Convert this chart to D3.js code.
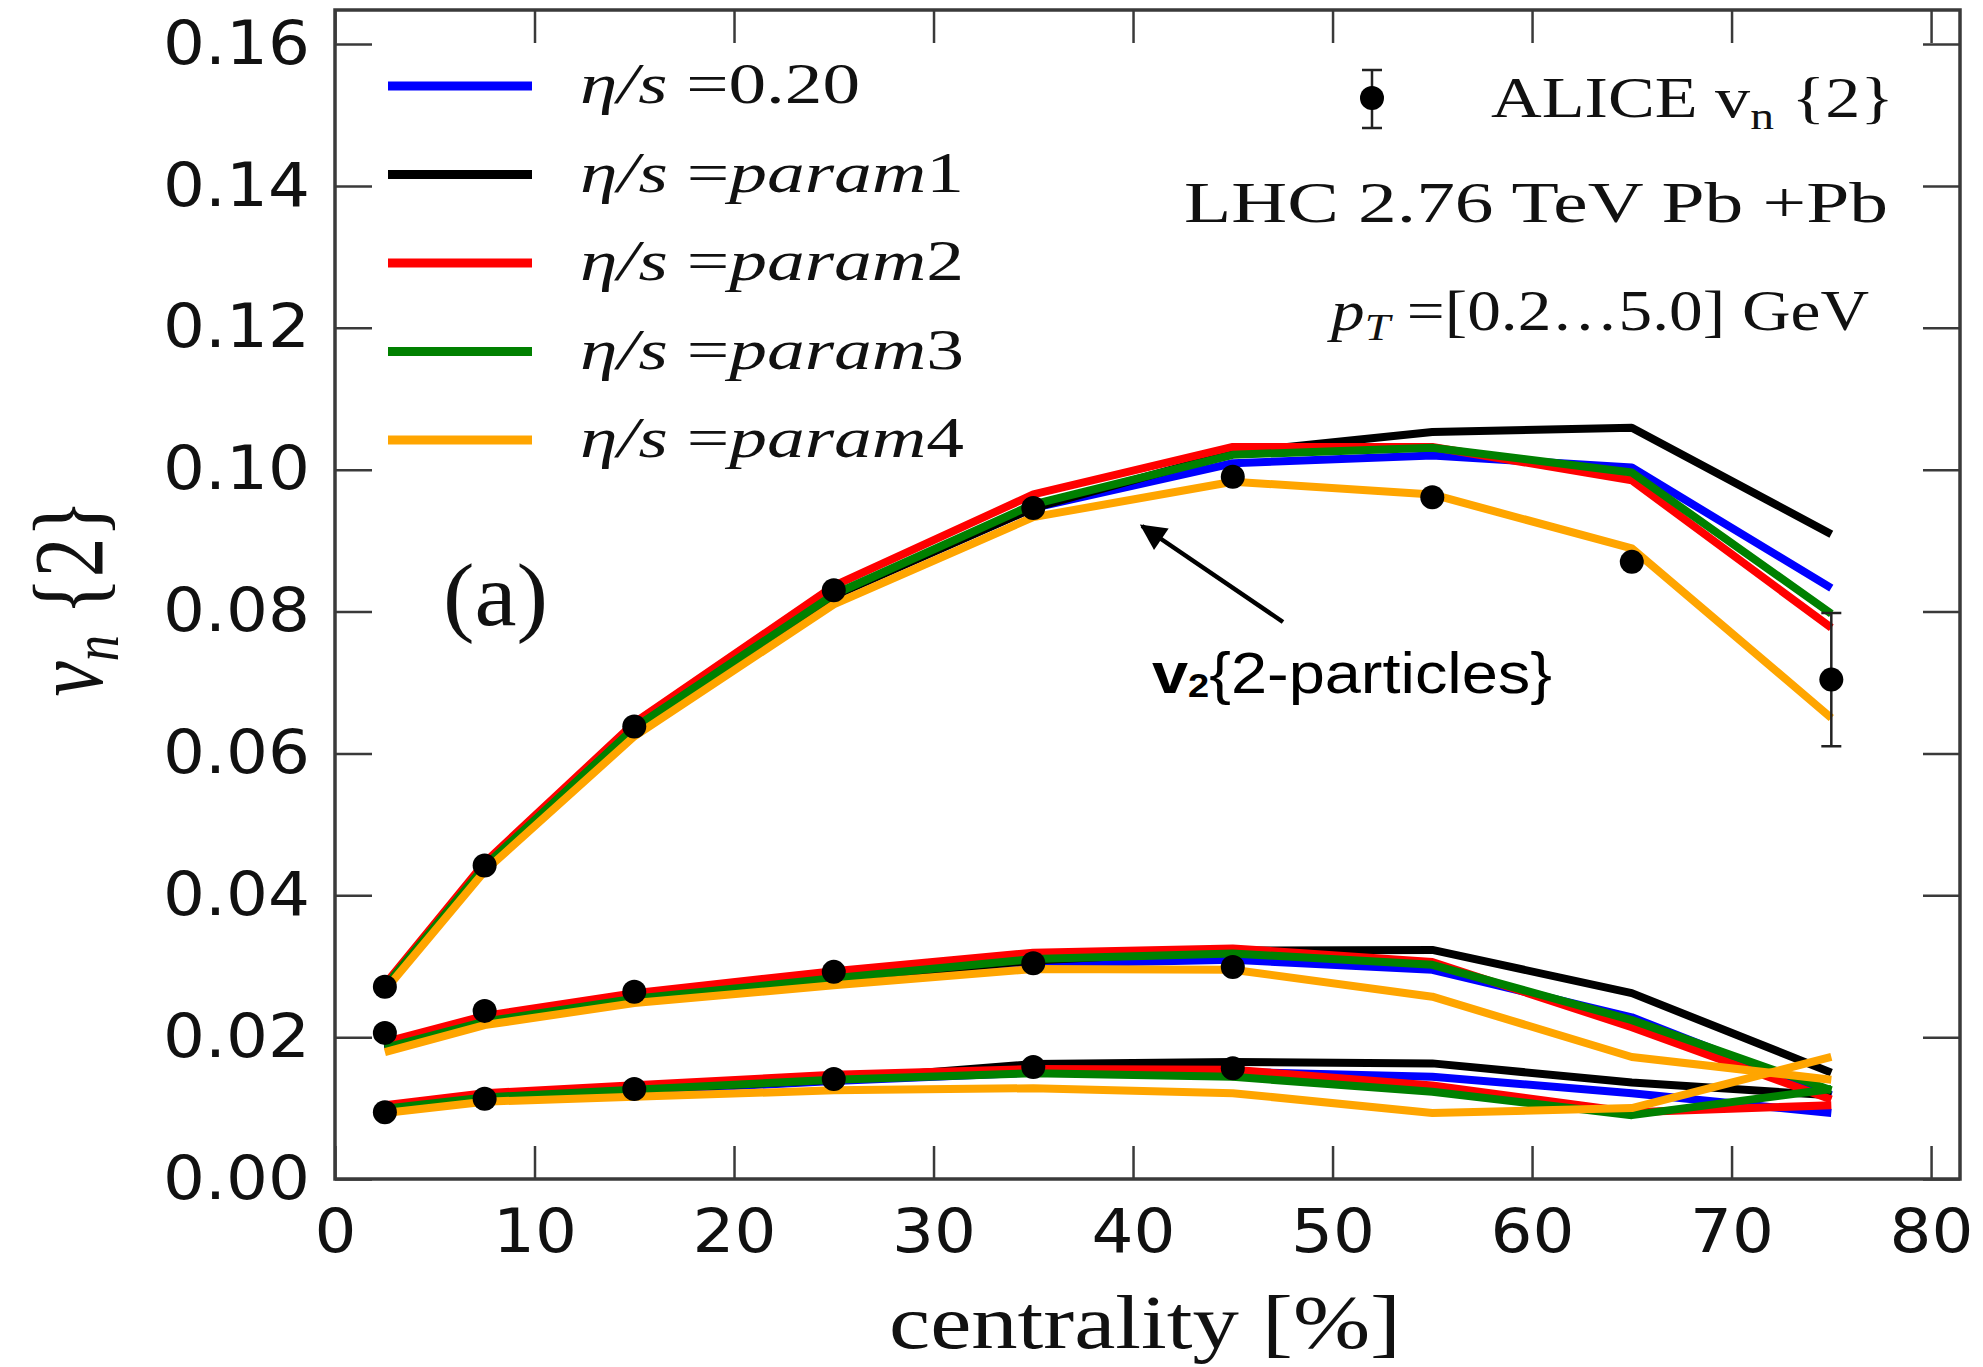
<!DOCTYPE html>
<html>
<head>
<meta charset="utf-8">
<script src="https://cdn.jsdelivr.net/npm/d3@7"></script>
<style>
  body { margin: 0; background: #fff; }
  svg { display: block; }
</style>
</head>
<body>
<script>
// centrality bins (bin centres, %)
var centrality = [2.5, 7.5, 15, 25, 35, 45, 55, 65, 75]

// model curves, one array per harmonic and per eta/s setting
var v2Eta020 = [0.0270, 0.0440, 0.0634, 0.0822, 0.0946, 0.1009, 0.1020, 0.1003, 0.0833]
var v3Eta020 = [0.0183, 0.0220, 0.0252, 0.0280, 0.0303, 0.0309, 0.0295, 0.0228, 0.0118]
var v4Eta020 = [0.0098, 0.0114, 0.0124, 0.0138, 0.0150, 0.0151, 0.0144, 0.0121, 0.0093]

var v2Param1 = [0.0270, 0.0440, 0.0634, 0.0822, 0.0946, 0.1024, 0.1053, 0.1059, 0.0909]
var v3Param1 = [0.0183, 0.0220, 0.0252, 0.0281, 0.0308, 0.0322, 0.0323, 0.0262, 0.0150]
var v4Param1 = [0.0098, 0.0115, 0.0126, 0.0140, 0.0162, 0.0165, 0.0163, 0.0136, 0.0118]

var v2Param2 = [0.0274, 0.0446, 0.0643, 0.0836, 0.0965, 0.1032, 0.1032, 0.0985, 0.0777]
var v3Param2 = [0.0193, 0.0230, 0.0262, 0.0293, 0.0319, 0.0325, 0.0306, 0.0214, 0.0112]
var v4Param2 = [0.0104, 0.0121, 0.0132, 0.0147, 0.0155, 0.0154, 0.0132, 0.0094, 0.0104]

var v2Param3 = [0.0271, 0.0441, 0.0636, 0.0824, 0.0951, 0.1021, 0.1031, 0.0996, 0.0797]
var v3Param3 = [0.0185, 0.0222, 0.0254, 0.0283, 0.0310, 0.0318, 0.0302, 0.0224, 0.0125]
var v4Param3 = [0.0099, 0.0115, 0.0126, 0.0140, 0.0149, 0.0144, 0.0123, 0.0090, 0.0127]

var v2Param4 = [0.0266, 0.0434, 0.0624, 0.0810, 0.0933, 0.0983, 0.0965, 0.0889, 0.0650]
var v3Param4 = [0.0179, 0.0217, 0.0248, 0.0273, 0.0296, 0.0295, 0.0257, 0.0172, 0.0140]
var v4Param4 = [0.0093, 0.0109, 0.0116, 0.0125, 0.0128, 0.0121, 0.0093, 0.0100, 0.0172]

// ALICE v_n{2} points
var aliceV2 = [0.0271, 0.0442, 0.0638, 0.0830, 0.0946, 0.0990, 0.0961, 0.0870, 0.0704]
var aliceV2Err = [0, 0, 0, 0, 0, 0, 0, 0, 0.0094]
var aliceLowCentrality = [2.5, 7.5, 15, 25, 35, 45]
var aliceV3 = [0.0206, 0.0237, 0.0264, 0.0292, 0.0304, 0.0299]
var aliceV4 = [0.0094, 0.0113, 0.0127, 0.0141, 0.0158, 0.0156]

var xTicks = [0, 10, 20, 30, 40, 50, 60, 70, 80]
var yTicks = [0, 0.02, 0.04, 0.06, 0.08, 0.10, 0.12, 0.14, 0.16]
var legendLabels = ['0.20', 'param1', 'param2', 'param3', 'param4']

var series = [
  { label: legendLabels[0], color: '#0000ff', curves: [v2Eta020, v3Eta020, v4Eta020] },
  { label: legendLabels[1], color: '#000000', curves: [v2Param1, v3Param1, v4Param1] },
  { label: legendLabels[2], color: '#ff0000', curves: [v2Param2, v3Param2, v4Param2] },
  { label: legendLabels[3], color: '#008000', curves: [v2Param3, v3Param3, v4Param3] },
  { label: legendLabels[4], color: '#ffa500', curves: [v2Param4, v3Param4, v4Param4] }
]

var alice = [
  { cent: centrality, vals: aliceV2, err: aliceV2Err },
  { cent: aliceLowCentrality, vals: aliceV3 },
  { cent: aliceLowCentrality, vals: aliceV4 }
]

var W = 1983
var H = 1367
var serif = "'Liberation Serif', 'DejaVu Serif', serif"
var sans = "'DejaVu Sans', sans-serif"
var axisColor = '#3a3a3a'

var svg = d3
  .select('body')
  .append('svg')
  .attr('width', W)
  .attr('height', H)

svg.append('rect').attr('width', W).attr('height', H).attr('fill', '#fff')

var x = d3.scaleLinear().domain([0, 81.45]).range([335, 1960])
var y = d3.scaleLinear().domain([0, 0.1648]).range([1179, 10])

// stretch rendered text a bit wider, like the reference
function stretch(sel, k) {
  sel.each(function() {
    var w = this.getComputedTextLength()
    d3.select(this)
      .attr('textLength', w * k)
      .attr('lengthAdjust', 'spacingAndGlyphs')
  })
}

function fit(sel, w) {
  sel.attr('textLength', w).attr('lengthAdjust', 'spacingAndGlyphs')
}

// axes
function styleAxis(g) {
  g.select('.domain').remove()
  g.selectAll('.tick line').attr('stroke', axisColor).attr('stroke-width', 2.5)
  g.selectAll('.tick text')
    .attr('fill', '#111')
    .style('font-family', sans)
    .style('font-size', '60px')
}

var yLeft = svg
  .append('g')
  .attr('transform', 'translate(' + x.range()[0] + ',0)')
  .call(
    d3.axisLeft(y)
      .tickValues(yTicks)
      .tickSizeInner(-37)
      .tickSizeOuter(0)
      .tickPadding(25)
      .tickFormat(d3.format('.2f'))
  )
  .call(styleAxis)
stretch(yLeft.selectAll('.tick text'), 1.1)

svg
  .append('g')
  .attr('transform', 'translate(' + x.range()[1] + ',0)')
  .call(d3.axisRight(y).tickValues(yTicks).tickSizeInner(-37).tickSizeOuter(0).tickFormat(''))
  .call(styleAxis)

var xBottom = svg
  .append('g')
  .attr('transform', 'translate(0,' + y.range()[0] + ')')
  .call(
    d3.axisBottom(x)
      .tickValues(xTicks)
      .tickSizeInner(-33)
      .tickSizeOuter(0)
      .tickPadding(30)
      .tickFormat(d3.format('d'))
  )
  .call(styleAxis)
stretch(xBottom.selectAll('.tick text'), 1.1)

svg
  .append('g')
  .attr('transform', 'translate(0,' + y.range()[1] + ')')
  .call(d3.axisTop(x).tickValues(xTicks).tickSizeInner(-33).tickSizeOuter(0).tickFormat(''))
  .call(styleAxis)

svg
  .append('rect')
  .attr('x', x.range()[0])
  .attr('y', y.range()[1])
  .attr('width', x.range()[1] - x.range()[0])
  .attr('height', y.range()[0] - y.range()[1])
  .attr('fill', 'none')
  .attr('stroke', axisColor)
  .attr('stroke-width', 3.5)

// model curves
var line = d3
  .line()
  .x(d => x(d.c))
  .y(d => y(d.v))

var curves = svg.append('g')
series.forEach(function(s) {
  s.curves.forEach(function(vals) {
    curves
      .append('path')
      .datum(centrality.map((c, i) => ({ c: c, v: vals[i] })))
      .attr('d', line)
      .attr('fill', 'none')
      .attr('stroke', s.color)
      .attr('stroke-width', 8)
      .attr('stroke-linejoin', 'round')
  })
})

// ALICE data
var dots = svg.append('g')
alice.forEach(function(set) {
  var pts = set.cent.map((c, i) => ({ c: c, v: set.vals[i], e: set.err ? set.err[i] : 0 }))
  var withErr = pts.filter(d => d.e > 0)
  dots
    .selectAll(null)
    .data(withErr)
    .enter()
    .append('path')
    .attr('d', d => {
      var cx = x(d.c)
      var y0 = y(d.v - d.e)
      var y1 = y(d.v + d.e)
      return 'M' + cx + ',' + y0 + 'V' + y1 +
        'M' + (cx - 10) + ',' + y0 + 'H' + (cx + 10) +
        'M' + (cx - 10) + ',' + y1 + 'H' + (cx + 10)
    })
    .attr('stroke', '#222')
    .attr('stroke-width', 2.5)
    .attr('fill', 'none')
  dots
    .selectAll(null)
    .data(pts)
    .enter()
    .append('circle')
    .attr('cx', d => x(d.c))
    .attr('cy', d => y(d.v))
    .attr('r', 12)
    .attr('fill', '#000')
})

// legend (model)
var legend = svg.append('g')
series.forEach(function(s, i) {
  var ly = 86 + i * 88.5
  legend
    .append('line')
    .attr('x1', 388)
    .attr('x2', 532)
    .attr('y1', ly)
    .attr('y2', ly)
    .attr('stroke', s.color)
    .attr('stroke-width', 9)
  var t = legend
    .append('text')
    .attr('x', 580)
    .attr('y', ly + 17)
    .style('font-family', serif)
    .style('font-size', '56px')
    .attr('fill', '#111')
  t.append('tspan').style('font-style', 'italic').text('η/s ')
  t.append('tspan').text('=')
  if (s.label.indexOf('param') === 0) {
    t.append('tspan').style('font-style', 'italic').text('param')
    t.append('tspan').text(s.label.slice(5))
    fit(t, 384)
  } else {
    t.append('tspan').text(s.label)
    fit(t, 280)
  }
})

// legend (data)
var lx = 1372
var lyData = 98
legend
  .append('path')
  .attr('d', 'M' + lx + ',70V128M' + (lx - 10) + ',70H' + (lx + 10) + 'M' + (lx - 10) + ',128H' + (lx + 10))
  .attr('stroke', '#222')
  .attr('stroke-width', 2.5)
legend.append('circle').attr('cx', lx).attr('cy', lyData).attr('r', 12).attr('fill', '#000')

var aliceText = svg
  .append('text')
  .attr('x', 1491)
  .attr('y', 117)
  .style('font-family', serif)
  .style('font-size', '56px')
  .attr('fill', '#111')
aliceText.append('tspan').text('ALICE v')
aliceText.append('tspan').attr('dy', 12).style('font-size', '38px').text('n')
aliceText.append('tspan').attr('dy', -12).text(' {2}')
fit(aliceText, 403)

var lhc = svg
  .append('text')
  .attr('x', 1184)
  .attr('y', 222)
  .style('font-family', serif)
  .style('font-size', '56px')
  .attr('fill', '#111')
  .text('LHC 2.76 TeV Pb +Pb')
fit(lhc, 704)

var pt = svg
  .append('text')
  .attr('x', 1331)
  .attr('y', 330)
  .style('font-family', serif)
  .style('font-size', '56px')
  .attr('fill', '#111')
pt.append('tspan').style('font-style', 'italic').text('p')
pt.append('tspan').attr('dy', 10).style('font-style', 'italic').style('font-size', '38px').text('T')
pt.append('tspan').attr('dy', -10).text(' =[0.2…5.0] GeV')
fit(pt, 538)

// panel tag
var tag = svg
  .append('text')
  .attr('x', 443)
  .attr('y', 625)
  .style('font-family', serif)
  .style('font-size', '88px')
  .attr('fill', '#111')
  .text('(a)')
fit(tag, 105)

// axis titles
var xTitle = svg
  .append('text')
  .attr('x', 1145)
  .attr('y', 1348)
  .attr('text-anchor', 'middle')
  .style('font-family', serif)
  .style('font-size', '76px')
  .attr('fill', '#111')
  .text('centrality [%]')
fit(xTitle, 512)

var yTitle = svg
  .append('text')
  .attr('transform', 'translate(102,598) rotate(-90)')
  .attr('text-anchor', 'middle')
  .style('font-family', serif)
  .style('font-size', '100px')
  .attr('fill', '#111')
yTitle.append('tspan').style('font-style', 'italic').text('v')
yTitle.append('tspan').attr('dy', 16).style('font-style', 'italic').style('font-size', '66px').text('n')
yTitle.append('tspan').attr('dy', -16).text(' {2}')
fit(yTitle, 197)

// annotation with arrow
svg
  .append('defs')
  .append('marker')
  .attr('id', 'head')
  .attr('viewBox', '0 0 10 10')
  .attr('refX', 9)
  .attr('refY', 5)
  .attr('markerUnits', 'userSpaceOnUse')
  .attr('markerWidth', 32)
  .attr('markerHeight', 26)
  .attr('orient', 'auto')
  .append('path')
  .attr('d', 'M0,0L10,5L0,10z')
  .attr('fill', '#000')

svg
  .append('line')
  .attr('x1', 1283)
  .attr('y1', 622)
  .attr('x2', 1142)
  .attr('y2', 526)
  .attr('stroke', '#000')
  .attr('stroke-width', 4.5)
  .attr('marker-end', 'url(#head)')

var note = svg
  .append('text')
  .attr('x', 1152)
  .attr('y', 693)
  .style('font-family', "'Liberation Sans', Arial, sans-serif")
  .style('font-size', '58px')
  .attr('fill', '#000')
note.append('tspan').style('font-weight', 700).text('v')
note.append('tspan').attr('dy', 4).style('font-weight', 700).style('font-size', '34px').text('2')
note.append('tspan').attr('dy', -4).text('{2-particles}')
fit(note, 400)
</script>
</body>
</html>
